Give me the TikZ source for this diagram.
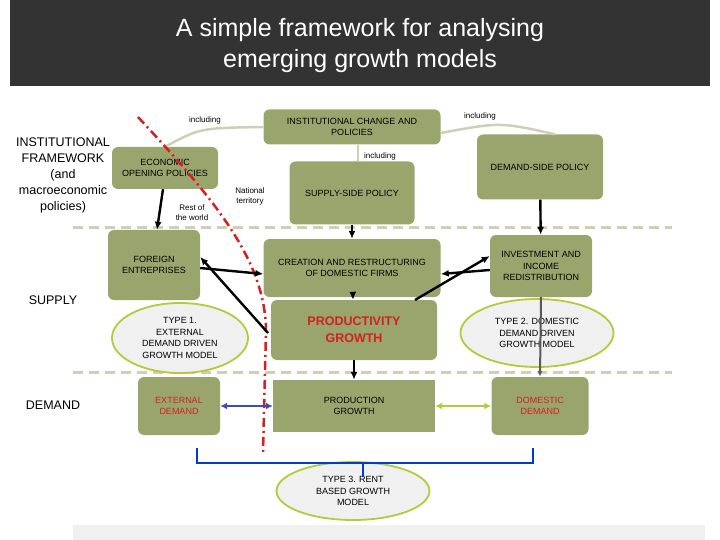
\documentclass[tikz,border=0pt]{standalone}
\usepackage{fontspec}
\setmainfont{Liberation Sans}
\usetikzlibrary{shapes.geometric,arrows.meta}
\definecolor{olive}{HTML}{9AA56E}
\definecolor{ell}{HTML}{B5C93A}
\definecolor{beige}{HTML}{CFCFB8}
\definecolor{dred}{HTML}{D42020}
\begin{document}
\begin{tikzpicture}[x=1pt,y=-1pt,
 box/.style={fill=olive,rounded corners=6pt,align=center,font=\fontsize{9}{11.5}\selectfont,inner sep=0pt},
 elp/.style={ellipse,draw=ell,line width=1.8pt,fill=gray!12,align=center,font=\fontsize{9}{11.5}\selectfont,inner sep=0pt},
 arr/.style={-{Latex[length=8pt,width=7pt]},line width=2.4pt},
 lbl/.style={font=\fontsize{8}{10}\selectfont,align=center},
 side/.style={font=\fontsize{12.5}{16}\selectfont,align=center}]
\useasboundingbox (0,0) rectangle (720,540);
\fill[black!80] (10,0) rectangle (710,86);
\node[white,align=center,font=\fontsize{25}{31}\selectfont] (title) at (360,46) {A simple framework for analysing\\emerging growth models};
\fill[gray!12] (73,525) rectangle (705,540);
% dashed separators
\draw[beige,line width=3pt,dash pattern=on 10pt off 6pt] (73,228) -- (672,228);
\draw[beige,line width=3pt,dash pattern=on 10pt off 6pt] (73,372) -- (672,372);
% nodes
\node[box,minimum width=177pt,minimum height=35pt] (inst) at (352,127) {INSTITUTIONAL CHANGE AND\\POLICIES};
\node[box,minimum width=106pt,minimum height=42pt] (econ) at (165,168) {ECONOMIC\\OPENING POLICIES};
\node[box,minimum width=125pt,minimum height=63pt] (supp) at (352,193) {SUPPLY-SIDE POLICY};
\node[box,minimum width=126pt,minimum height=65pt] (dems) at (540,167) {DEMAND-SIDE POLICY};
\node[box,minimum width=92pt,minimum height=70pt] (forg) at (154,265) {FOREIGN\\ENTREPRISES};
\node[box,minimum width=177pt,minimum height=58pt] (crea) at (352,268) {CREATION AND RESTRUCTURING\\OF DOMESTIC FIRMS};
\node[box,minimum width=102pt,minimum height=62pt] (inv) at (541,266) {INVESTMENT AND\\INCOME\\REDISTRIBUTION};
\node[box,minimum width=166pt,minimum height=60pt,text=dred,font=\bfseries\fontsize{12.5}{17}\selectfont] (prod) at (354,330) {PRODUCTIVITY\\GROWTH};
\node[box,rounded corners=0pt,minimum width=162pt,minimum height=52pt] (pg) at (354,406) {PRODUCTION\\GROWTH};
\node[box,minimum width=82pt,minimum height=58pt,text=dred] (ext) at (179,406) {EXTERNAL\\DEMAND};
\node[box,minimum width=97pt,minimum height=58pt,text=dred] (dom) at (540,406) {DOMESTIC\\DEMAND};
\node[elp,minimum width=136pt,minimum height=70pt] (t1) at (180,338) {TYPE 1.\\EXTERNAL\\DEMAND DRIVEN\\GROWTH MODEL};
\node[elp,minimum width=153pt,minimum height=68pt] (t2) at (537,333) {TYPE 2. DOMESTIC\\DEMAND DRIVEN\\GROWTH MODEL};
\node[elp,minimum width=153pt,minimum height=58pt] (t3) at (353,491) {TYPE 3. RENT\\BASED GROWTH\\MODEL};
% labels
\node[lbl] (l1) at (205,120) {including};
\node[lbl] (l2) at (480,116) {including};
\node[lbl] (l3) at (380,156) {including};
\node[lbl] (l4) at (250,196) {National\\territory};
\node[lbl] (l5) at (192,213) {Rest of\\the world};
\node[side] (lif) at (63,175) {INSTITUTIONAL\\FRAMEWORK\\(and\\macroeconomic\\policies)};
\node[side] (lsup) at (53,300) {SUPPLY};
\node[side] (ldem) at (53,405) {DEMAND};
% beige links
\draw[beige,line width=2.5pt] (econ.north) .. controls (200,128) .. (inst.west);
\draw[beige,line width=2.5pt] ([yshift=-6pt]inst.east) .. controls (500,122) .. ([xshift=15pt]dems.north);
\draw[beige,line width=2.5pt] ([xshift=6pt]inst.south) -- ([xshift=6pt]supp.north);
% red frontier
\draw[dred,line width=2.5pt,dash pattern=on 9pt off 4pt on 2pt off 4pt] (138,117) .. controls (215,200) and (265,260) .. (266,330) -- (263,453);
% arrows
\draw[arr] ([xshift=-2pt]econ.south) -- ([xshift=3pt]forg.north);
\draw[arr] (supp) -- (crea);
\draw[arr] (dems) -- (inv);
\draw[arr] ([yshift=-3pt]forg.east) -- ([yshift=-6pt]crea.west);
\draw[arr] ([yshift=-4pt]inv.west) -- ([yshift=-6pt]crea.east);
\draw[arr] (crea) -- (prod);
\draw[arr] (268,333) -- ([yshift=8pt]forg.east);
\draw[arr] (415,300) -- ([yshift=10pt]inv.west);
\draw[arr] (prod) -- (pg);
\draw[-{Latex[length=6pt,width=5pt]},line width=2pt,black!65] (inv.south) -- (dom.north);
\draw[{Latex[length=7pt,width=7pt]}-{Latex[length=7pt,width=7pt]},line width=2.6pt,blue!45!gray] (ext) -- (pg);
\draw[{Latex[length=7pt,width=7pt]}-{Latex[length=7pt,width=7pt]},line width=2.6pt,ell] (pg) -- (dom);
% bracket
\draw[blue!70!cyan!80!black,line width=2.5pt] (197,448) -- (197,463) -- (533,463) -- (533,448);
\draw[blue!70!cyan!80!black,line width=2.5pt] (363,463) -- (363,477);
\end{tikzpicture}
\end{document}
